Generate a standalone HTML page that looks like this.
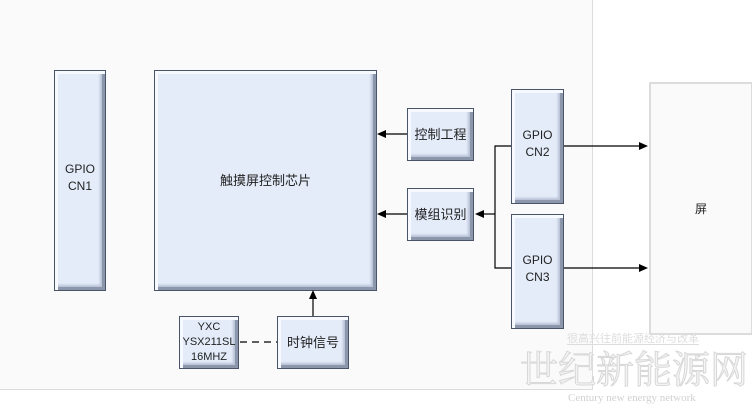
<!DOCTYPE html>
<html style="width:752px;height:411px;overflow:hidden"><head><meta charset="utf-8"><style>
body{margin:0;width:752px;height:411px;background:#fff;position:relative;overflow:hidden;font-family:"Liberation Sans","Noto Sans CJK SC",sans-serif;}
.panel{position:absolute;left:0;top:0;width:592px;height:389px;background:#fafafa;border:1px solid #dcdcdc;border-top:none;border-left:none;}
.right{position:absolute;left:649px;top:82px;width:100px;height:249px;background:#fafafa;border:2px solid #dcdcdc;display:flex;align-items:center;justify-content:center;font-size:12px;color:#222;}
.b{position:absolute;box-sizing:border-box;background:#e4ecfa;border:1px solid #4a5468;
box-shadow:inset 3px 3px 0 #f6f9ff,inset -3px -3px 0 #8d97ab,inset -5px -5px 2px #b9c3d6;
display:flex;align-items:center;justify-content:center;text-align:center;font-size:12px;color:#222;line-height:17px;}
.wm{position:absolute;color:#e6e6e6;white-space:nowrap;line-height:1;font-family:"Liberation Serif","Noto Serif CJK SC",serif;}
</style></head><body>
<div class="panel"></div>
<div class="right">屏</div>
<div class="b" style="left:54px;top:70px;width:52px;height:221px;padding-bottom:6px">GPIO<br>CN1</div>
<div class="b" style="left:154px;top:70px;width:223px;height:221px;font-size:13px">触摸屏控制芯片</div>
<div class="b" style="left:407px;top:108px;width:67px;height:53px;font-size:13px">控制工程</div>
<div class="b" style="left:407px;top:188px;width:67px;height:53px;font-size:13px">模组识别</div>
<div class="b" style="left:511px;top:89px;width:53px;height:115px;padding-bottom:6px">GPIO<br>CN2</div>
<div class="b" style="left:511px;top:214px;width:53px;height:115px;padding-bottom:6px">GPIO<br>CN3</div>
<div class="b" style="left:179px;top:316px;width:60px;height:53px;font-size:11px;line-height:15px">YXC<br>YSX211SL<br>16MHZ</div>
<div class="b" style="left:277px;top:316px;width:72px;height:53px;font-size:13px">时钟信号</div>
<svg style="position:absolute;left:0;top:0" width="752" height="411">
<g stroke="#000" stroke-width="1.2" fill="none">
<line x1="407" y1="134" x2="384" y2="134"/>
<line x1="407" y1="214" x2="384" y2="214"/>
<line x1="495" y1="214" x2="484" y2="214"/>
<polyline points="511,146 495,146 495,268 511,268"/>
<line x1="564" y1="146" x2="640" y2="146"/>
<line x1="564" y1="268" x2="640" y2="268"/>
<line x1="313" y1="316" x2="313" y2="298"/>
<line x1="240" y1="342" x2="277" y2="342" stroke-dasharray="7,5"/>
</g>
<g fill="#000">
<polygon points="377,134 386,130 386,138"/>
<polygon points="377,214 386,210 386,218"/>
<polygon points="475,214 484,210 484,218"/>
<polygon points="648,146 639,142 639,150"/>
<polygon points="648,268 639,264 639,272"/>
<polygon points="313,290 309,299 317,299"/>
</g>
</svg>
<div class="wm" style="left:567px;top:333px;font-size:11px;font-family:'Noto Sans CJK SC',sans-serif;color:#ddd;border-bottom:1px solid #ddd">很高兴往前能源经济与改革</div>
<div class="wm" style="left:520px;top:352px;font-size:38px;color:#f4f4f4;-webkit-text-stroke:1px #d8d8d8">世纪新能源网</div>
<div class="wm" style="left:568px;top:393px;font-size:11px;color:#d0d0d0">Century new energy network</div>
</body></html>
